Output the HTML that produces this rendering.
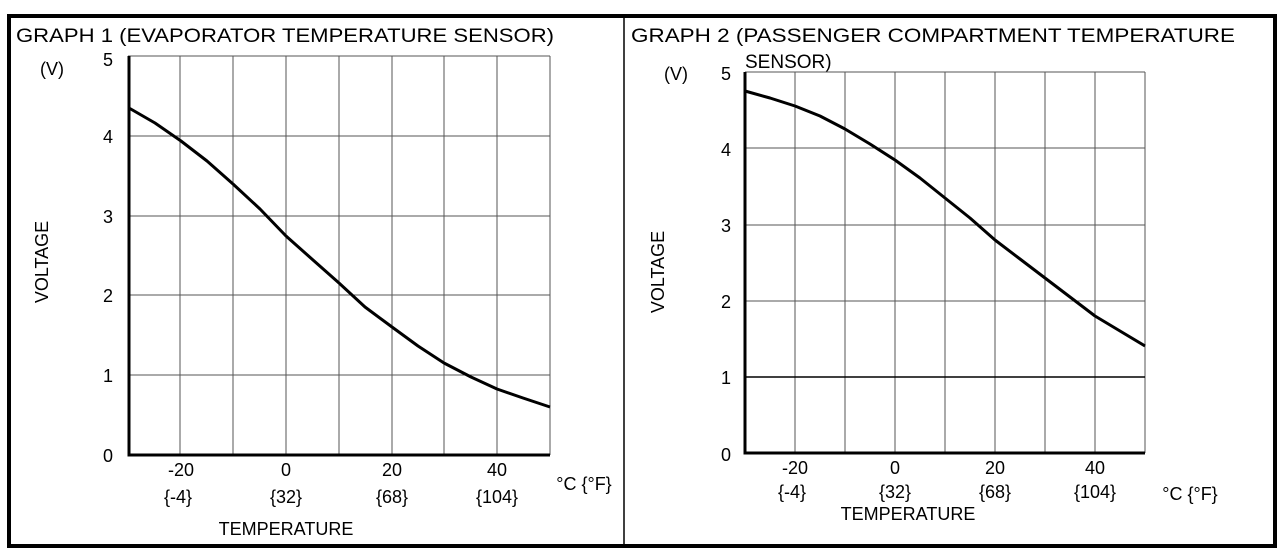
<!DOCTYPE html>
<html><head><style>body{margin:0;background:#fff}svg{display:block}text{font-family:"Liberation Sans",sans-serif;fill:#000}</style></head><body>
<svg width="1286" height="558" viewBox="0 0 1286 558">
<rect x="9" y="16" width="1266" height="530" fill="none" stroke="#000" stroke-width="4"/>
<line x1="624" y1="16" x2="624" y2="546" stroke="#000" stroke-width="1.5"/>
<text x="16" y="42" font-size="19" textLength="538" lengthAdjust="spacingAndGlyphs">GRAPH 1 (EVAPORATOR TEMPERATURE SENSOR)</text>
<text x="40" y="75" font-size="18">(V)</text>
<g font-size="18" text-anchor="middle">
<text x="108" y="66">5</text><text x="108" y="143">4</text><text x="108" y="223">3</text><text x="108" y="302">2</text><text x="108" y="382">1</text><text x="108" y="462">0</text>
<text x="181" y="476">-20</text><text x="286" y="476">0</text><text x="392" y="476">20</text><text x="497" y="476">40</text>
<text x="178" y="503">{-4}</text><text x="286" y="503">{32}</text><text x="392" y="503">{68}</text><text x="497" y="503">{104}</text>
<text x="584" y="490">°C {°F}</text>
<text x="286" y="535">TEMPERATURE</text>
</g>
<text transform="translate(48,262) rotate(-90)" font-size="18" text-anchor="middle">VOLTAGE</text>
<g stroke="#555" stroke-width="1">
<line x1="180" y1="56" x2="180" y2="455"/><line x1="233" y1="56" x2="233" y2="455"/><line x1="286" y1="56" x2="286" y2="455"/><line x1="339" y1="56" x2="339" y2="455"/><line x1="392" y1="56" x2="392" y2="455"/><line x1="444" y1="56" x2="444" y2="455"/><line x1="497" y1="56" x2="497" y2="455"/><line x1="550" y1="56" x2="550" y2="455"/>
<line x1="128" y1="56" x2="550" y2="56"/><line x1="128" y1="136" x2="550" y2="136"/><line x1="128" y1="216" x2="550" y2="216"/><line x1="128" y1="295" x2="550" y2="295"/><line x1="128" y1="375" x2="550" y2="375"/>
</g>
<path d="M129,56 V455 H550" fill="none" stroke="#000" stroke-width="3"/>
<polyline fill="none" stroke="#000" stroke-width="3" stroke-linejoin="round" points="129,108 155,123 181,141 207,161 233,184 260,209 286,236 313,260 339,283 365,307 392,327 418,346 444,363 471,377 497,389 523,398 550,407"/>

<text x="631" y="42" font-size="19" textLength="604" lengthAdjust="spacingAndGlyphs">GRAPH 2  (PASSENGER COMPARTMENT TEMPERATURE</text>
<text x="745" y="68" font-size="19">SENSOR)</text>
<text x="664" y="80" font-size="18">(V)</text>
<g font-size="18" text-anchor="middle">
<text x="726" y="80">5</text><text x="726" y="156">4</text><text x="726" y="232">3</text><text x="726" y="308">2</text><text x="726" y="384">1</text><text x="726" y="461">0</text>
<text x="795" y="474">-20</text><text x="895" y="474">0</text><text x="995" y="474">20</text><text x="1095" y="474">40</text>
<text x="792" y="498">{-4}</text><text x="895" y="498">{32}</text><text x="995" y="498">{68}</text><text x="1095" y="498">{104}</text>
<text x="1190" y="500">°C {°F}</text>
<text x="908" y="520">TEMPERATURE</text>
</g>
<text transform="translate(664,272) rotate(-90)" font-size="18" text-anchor="middle">VOLTAGE</text>
<g stroke="#555" stroke-width="1">
<line x1="795" y1="72" x2="795" y2="453"/><line x1="845" y1="72" x2="845" y2="453"/><line x1="895" y1="72" x2="895" y2="453"/><line x1="945" y1="72" x2="945" y2="453"/><line x1="995" y1="72" x2="995" y2="453"/><line x1="1045" y1="72" x2="1045" y2="453"/><line x1="1095" y1="72" x2="1095" y2="453"/><line x1="1145" y1="72" x2="1145" y2="453"/>
<line x1="745" y1="72" x2="1145" y2="72"/><line x1="745" y1="148" x2="1145" y2="148"/><line x1="745" y1="225" x2="1145" y2="225"/><line x1="745" y1="301" x2="1145" y2="301"/>
</g>
<line x1="745" y1="377" x2="1145" y2="377" stroke="#000" stroke-width="1.5"/>
<path d="M745,72 V453 H1145" fill="none" stroke="#000" stroke-width="3"/>
<polyline fill="none" stroke="#000" stroke-width="3" stroke-linejoin="round" points="745,91 770,98 795,106 820,116 845,129 870,144 895,160 920,178 945,198 970,218 995,240 1020,259 1045,278 1070,297 1095,316 1120,331 1145,346"/>
</svg>
</body></html>
